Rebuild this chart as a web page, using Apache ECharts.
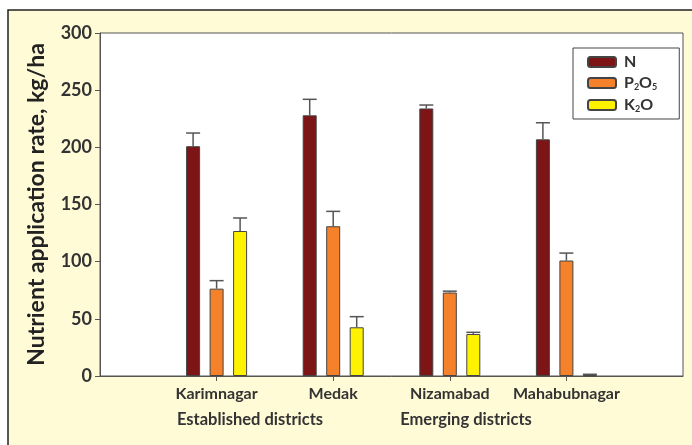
<!DOCTYPE html>
<html><head><meta charset="utf-8">
<script src="https://cdn.jsdelivr.net/npm/echarts@6/dist/echarts.min.js"></script>
<style>html,body{margin:0;padding:0;background:#fff}#c{width:692px;height:445px}</style>
</head><body><div id="c"></div>
<script>
// ---- data ----
const categories = ['', 'Karimnagar', 'Medak', 'Nizamabad', 'Mahabubnagar', ''];
const groupLabels = ['Established districts', 'Emerging districts'];
const seriesNames = ['N', 'P2O5', 'K2O'];
const nValues   = [201, 228, 234, 207];
const nErrors   = [11.5, 14, 3, 14.5];
const pValues   = [76.4, 131, 73, 101];
const pErrors   = [7, 13, 1.2, 6.5];
const kValues   = [126.8, 42.6, 36.7, 0.5];
const kErrors   = [11.4, 9.3, 1.5, 1];
const yTicks    = [0, 50, 100, 150, 200, 250, 300];

const colors = ['#7d1416', '#f5822b', '#fff200'];
const BAR_W = 14, GAP = 9.5;
const values = [nValues, pValues, kValues];
const errors = [nErrors, pErrors, kErrors];

function pad(arr){ return ['-'].concat(arr, ['-']); }

const series = [];
values.forEach((vals, si) => {
  series.push({
    name: seriesNames[si], type: 'bar', data: pad(vals),
    barWidth: BAR_W, barGap: (GAP / BAR_W * 100) + '%',
    itemStyle: { color: colors[si], borderColor: '#444', borderWidth: 1 },
    z: 2
  });
});
values.forEach((vals, si) => {
  const off = (si - 1) * (BAR_W + GAP);
  series.push({
    type: 'custom', silent: true, z: 3,
    data: vals.map((v, i) => [i + 1, v, v + errors[si][i]]),
    renderItem: function (params, api) {
      const base = api.coord([api.value(0), api.value(1)]);
      const top = api.coord([api.value(0), api.value(2)]);
      const x = base[0] + off;
      const st = { stroke: '#555', lineWidth: 1.5 };
      return { type: 'group', children: [
        { type: 'line', shape: { x1: x, y1: base[1], x2: x, y2: top[1] }, style: st },
        { type: 'line', shape: { x1: x - BAR_W / 2, y1: top[1], x2: x + BAR_W / 2, y2: top[1] }, style: st }
      ]};
    }
  });
});

const legendRich = {
  N: '{a|N}', P2O5: '{a|P}{s|2}{b|O}{s|5}', K2O: '{a|K}{s|2}{b|O}'
};

const chart = echarts.init(document.getElementById('c'));
chart.setOption({
  animation: false,
  textStyle: { fontFamily: 'Lato' },
  graphic: [
    { type: 'rect', z: -10, shape: { x: 8, y: 10, width: 700, height: 450 },
      style: { fill: '#fffbd6', stroke: '#222', lineWidth: 1.5 } },
    { type: 'text', z: 10, x: 250, y: 420,
      style: { text: groupLabels[0], fontSize: 16.5, fontWeight: 'bold', fill: '#333', fontFamily: 'Lato', align: 'center', verticalAlign: 'middle' } },
    { type: 'text', z: 10, x: 466, y: 420,
      style: { text: groupLabels[1], fontSize: 16.5, fontWeight: 'bold', fill: '#333', fontFamily: 'Lato', align: 'center', verticalAlign: 'middle' } }
  ],
  grid: { left: 100, right: 9, top: 33, bottom: 69, show: true, backgroundColor: '#fff', borderColor: '#555', borderWidth: 1 },
  legend: {
    data: seriesNames, orient: 'vertical', left: 573, top: 48,
    width: 96, padding: [6, 22, 5, 14], itemGap: 4, itemWidth: 28, itemHeight: 10,
    borderColor: '#444', borderWidth: 1, backgroundColor: '#fff',
    formatter: name => legendRich[name],
    textStyle: {
      rich: {
        a: { fontSize: 16, fontWeight: 'bold', color: '#333', fontFamily: 'Lato', lineHeight: 18, padding: [0, 0, 0, 3] },
        b: { fontSize: 16, fontWeight: 'bold', color: '#333', fontFamily: 'Lato', lineHeight: 18 },
        s: { fontSize: 9, fontWeight: 'bold', color: '#333', fontFamily: 'Lato', padding: [9, 0, 0, 0], lineHeight: 12 }
      }
    }
  },
  xAxis: {
    type: 'category', data: categories, boundaryGap: false,
    axisLine: { lineStyle: { color: '#555', width: 1 } },
    axisTick: { length: 5, lineStyle: { color: '#555' }, interval: (i) => i > 0 && i < categories.length - 1 },
    axisLabel: { interval: 0, fontSize: 16, fontWeight: 'bold', color: '#333', margin: 10, fontFamily: 'Lato' },
    splitLine: { show: false }
  },
  yAxis: {
    type: 'value', min: yTicks[0], max: yTicks[yTicks.length - 1], interval: yTicks[1] - yTicks[0],
    name: 'Nutrient application rate, kg/ha', nameLocation: 'middle', nameGap: 52,
    nameTextStyle: { fontSize: 23, fontWeight: 'bold', color: '#222', fontFamily: 'Lato' },
    axisLine: { show: true, lineStyle: { color: '#555', width: 1 } },
    axisTick: { show: true, length: 5, lineStyle: { color: '#555' } },
    axisLabel: { fontSize: 18, fontWeight: 'bold', color: '#333', margin: 8, fontFamily: 'Lato' },
    splitLine: { show: false }
  },
  series: series
});
</script></body></html>
